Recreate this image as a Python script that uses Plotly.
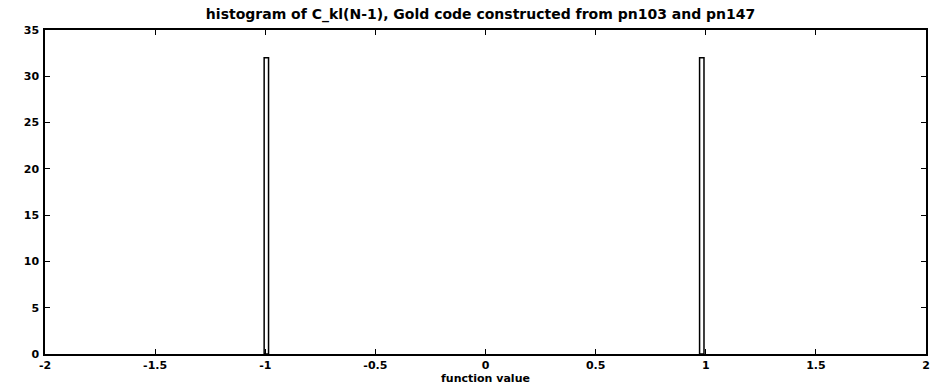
import plotly.graph_objects as go

# histogram bins (centres) and counts
bin_centers = [-0.995, 0.982]
counts = [32, 32]
bin_width = 0.02

x_ticks = [-2, -1.5, -1, -0.5, 0, 0.5, 1, 1.5, 2]
x_tick_text = ["-2", "-1.5", "-1", "-0.5", "0", "0.5", "1", "1.5", "2"]
y_ticks = [0, 5, 10, 15, 20, 25, 30, 35]

font_family = "DejaVu Sans, Verdana, sans-serif"
label_font = dict(family=font_family, size=11, color="black", weight="bold")

fig = go.Figure(
    go.Bar(
        x=bin_centers,
        y=counts,
        width=bin_width,
        marker=dict(color="white", line=dict(color="black", width=1.5)),
    )
)

axis_common = dict(
    showgrid=False,
    zeroline=False,
    showline=True,
    linecolor="black",
    linewidth=1.5,
    mirror="ticks",
    ticks="inside",
    ticklen=5,
    tickcolor="black",
    tickwidth=1,
    tickfont=label_font,
)

fig.update_layout(
    width=935,
    height=385,
    margin=dict(l=45, r=5, t=30, b=29),
    paper_bgcolor="white",
    plot_bgcolor="white",
    showlegend=False,
    title=dict(
        text="histogram of C_kl(N-1), Gold code constructed from pn103 and pn147",
        x=0.514,
        xanchor="center",
        y=1 - 14 / 385,
        yanchor="middle",
        font=dict(family=font_family, size=14, color="black", weight="bold"),
    ),
    xaxis=dict(
        range=[-2, 2],
        tickvals=x_ticks,
        ticktext=x_tick_text,
        ticklabelstandoff=0,
        title=dict(text="function value", standoff=0, font=label_font),
        **axis_common,
    ),
    yaxis=dict(
        range=[0, 35],
        tickvals=y_ticks,
        ticklabelstandoff=2,
        **axis_common,
    ),
)

fig.write_html("out.html")
